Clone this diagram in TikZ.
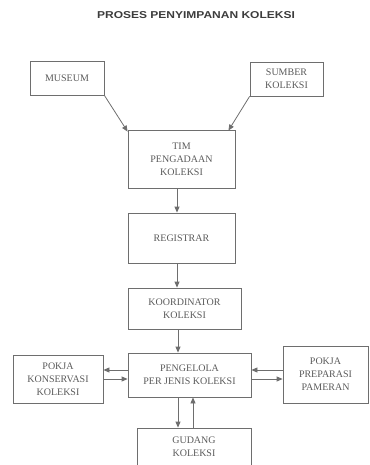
\documentclass[tikz,border=0pt]{standalone}
\usepackage{fontspec}
\setmainfont{Liberation Serif}
\newfontfamily\titlefont{Liberation Sans}
\usetikzlibrary{arrows.meta}
\definecolor{linec}{HTML}{6E6E6E}
\definecolor{textc}{HTML}{5A5A5A}
\definecolor{titlec}{HTML}{3C3C3C}
\tikzset{
  box/.style={draw=linec, line width=0.8pt, rectangle, align=center, inner sep=0pt,
    text=textc, font=\fontsize{10}{13}\selectfont},
  arr/.style={draw=linec, line width=0.8pt, -{Triangle[length=6pt,width=5pt]}},
}
\begin{document}
\begin{tikzpicture}[x=1pt,y=-1pt]
\useasboundingbox (0,0) rectangle (369,465);
\clip (0,0) rectangle (369,465);
\node[text=titlec] (title) at (196,15) {\scalebox{1.2}[1]{\titlefont\bfseries\fontsize{10}{12}\selectfont PROSES PENYIMPANAN KOLEKSI}};
\node[box, minimum width=74pt, minimum height=34pt] (museum) at (67,78) {MUSEUM};
\node[box, minimum width=73pt, minimum height=34pt] (sumber) at (286.5,79) {SUMBER\\KOLEKSI};
\node[box, minimum width=107pt, minimum height=58pt] (tim) at (181.5,159) {TIM\\PENGADAAN\\KOLEKSI};
\node[box, minimum width=107pt, minimum height=50pt] (reg) at (181.5,238) {REGISTRAR};
\node[box, minimum width=113pt, minimum height=41pt] (koord) at (184.5,308.5) {KOORDINATOR\\KOLEKSI};
\node[box, minimum width=123pt, minimum height=44pt] (peng) at (189.5,375) {PENGELOLA\\PER JENIS KOLEKSI};
\node[box, minimum width=90pt, minimum height=48pt] (kons) at (58,379) {POKJA\\KONSERVASI\\KOLEKSI};
\node[box, minimum width=85pt, minimum height=57pt] (prep) at (325.5,374.5) {POKJA\\PREPARASI\\PAMERAN};
\node[box, minimum width=114pt, minimum height=52pt, text depth=0pt] (gud) at (194,454) {};
\node[text=textc, font=\fontsize{10}{13}\selectfont, align=center] (gudtxt) at (194,447) {GUDANG\\KOLEKSI};
\coordinate (xa) at (177,0);
\coordinate (xb) at (178,0);
\coordinate (xc) at (193,0);
\coordinate (ya) at (0,370);
\coordinate (yb) at (0,379);
\draw[arr] (museum.south east) -- ([yshift=-2pt]tim.north west);
\draw[arr] (sumber.south west) -- ([xshift=-7pt,yshift=-1pt]tim.north east);
\draw[arr] (tim.south -| xa) -- (reg.north -| xa);
\draw[arr] (reg.south -| xa) -- (koord.north -| xa);
\draw[arr] (koord.south -| xb) -- (peng.north -| xb);
\draw[arr] (peng.south -| xb) -- (gud.north -| xb);
\draw[arr] (gud.north -| xc) -- (peng.south -| xc);
\draw[arr] (peng.west |- ya) -- (kons.east |- ya);
\draw[arr] (kons.east |- yb) -- (peng.west |- yb);
\draw[arr] (prep.west |- ya) -- (peng.east |- ya);
\draw[arr] (peng.east |- yb) -- (prep.west |- yb);
\end{tikzpicture}
\end{document}
